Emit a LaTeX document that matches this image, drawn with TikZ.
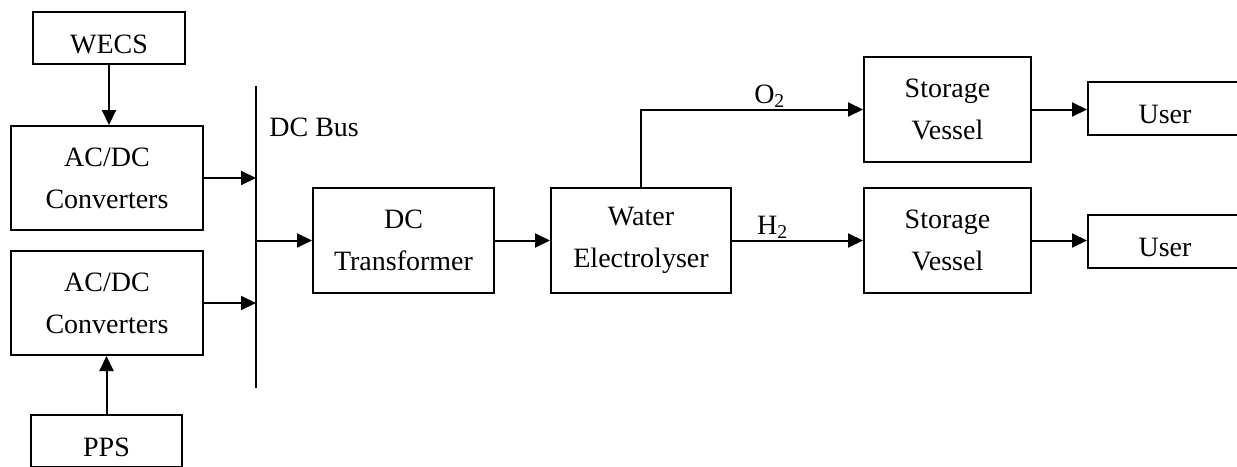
\documentclass[tikz,border=0pt]{standalone}
\usepackage{fontspec}
\setmainfont{Liberation Serif}
\usepackage{tikz}
\usetikzlibrary{arrows.meta, positioning, calc}
\tikzset{
  block/.style={rectangle, draw, line width=1pt, align=center,
    inner sep=0pt, font=\fontsize{14}{21}\selectfont,
    execute at begin node={\rule{0pt}{13pt}}},
  smallblock/.style={block, text height=15.5pt},
  gaslabel/.style={above, inner sep=0.5pt, font=\fontsize{14}{21}\selectfont},
  arrow/.style={-{Triangle[length=7.5pt, width=7pt]}, line width=1pt},
  line/.style={line width=1pt}
}

\begin{document}
\begin{tikzpicture}[x=0.5pt, y=-0.5pt]
  \useasboundingbox (0,0) rectangle (1237,466);
  \clip (0,0) rectangle (1237,466);

  % Sources and converters
  \node[smallblock, minimum width=76pt, minimum height=26pt] (wecs) at (109,38) {WECS};
  \node[block, minimum width=96pt, minimum height=52pt] (acdc1) at (107,178) {AC/DC\\Converters};
  \node[block, minimum width=96pt, minimum height=52pt] (acdc2) at (107,303) {AC/DC\\Converters};
  \node[smallblock, minimum width=75.5pt, minimum height=26pt] (pps) at (106.5,441) {PPS};

  % DC bus
  \coordinate (bustop) at (256,86);
  \coordinate (busbot) at (256,388);
  \draw[line] (bustop) -- (busbot);
  \node[font=\fontsize{14}{21}\selectfont, anchor=west, inner sep=0pt] (buslabel) at (269,127) {DC Bus};
  \coordinate (bus1) at (256,178);
  \coordinate (bus2) at (256,303);
  \coordinate (busout) at (256,240.5);

  % Conversion chain
  \node[block, minimum width=90.5pt, minimum height=52.5pt] (dctr) at (403.5,240.5) {DC\\Transformer};
  \node[block, minimum width=90pt, minimum height=52.5pt] (wel) at (641,240.5) {Water\\Electrolyser};

  % Storage and users
  \node[block, minimum width=83.5pt, minimum height=52.5pt] (sv1) at (947.5,109.5) {Storage\\Vessel};
  \node[block, minimum width=83.5pt, minimum height=52.5pt] (sv2) at (947.5,240.5) {Storage\\Vessel};
  \node[smallblock, minimum width=77pt, minimum height=26.5pt] (user1) at (1165,108.5) {User};
  \node[smallblock, minimum width=77pt, minimum height=26.5pt] (user2) at (1165,241) {User};

  % Connections
  \draw[arrow] (wecs.south) -- (wecs.south |- acdc1.north);
  \draw[arrow] (pps.north) -- (pps.north |- acdc2.south);
  \draw[arrow] (acdc1.east |- bus1) -- (bus1);
  \draw[arrow] (acdc2.east |- bus2) -- (bus2);
  \draw[arrow] (busout) -- (dctr.west);
  \draw[arrow] (dctr) -- (wel);
  \draw[arrow] (wel.north) |- node[pos=0.79, gaslabel] (o2) {O\textsubscript{2}} (sv1.west);
  \draw[arrow] (wel) -- node[pos=0.31, gaslabel] (h2) {H\textsubscript{2}} (sv2);
  \draw[arrow] (sv1.east) -- (sv1.east -| user1.west);
  \draw[arrow] (sv2.east) -- (sv2.east -| user2.west);
\end{tikzpicture}
\end{document}
